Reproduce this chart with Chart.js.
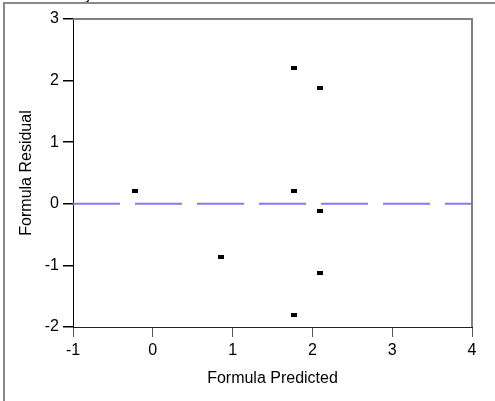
<!DOCTYPE html>
<html>
<head>
<meta charset="utf-8">
<script src="https://cdn.jsdelivr.net/npm/chart.js@4.4.0/dist/chart.umd.min.js"></script>
<style>
  html, body { margin: 0; padding: 0; background: #fff; }
  #wrap { width: 495px; height: 401px; }
</style>
</head>
<body>
<div id="wrap"><canvas id="residualPlot" width="495" height="401"></canvas></div>
<script>
// values
const predicted = [-0.22, 0.85, 1.77, 1.77, 1.77, 2.10, 2.10, 2.10];
const residual = [0.20, -0.86, 2.20, 0.20, -1.80, 1.88, -0.12, -1.12];
const xTicks = [-1, 0, 1, 2, 3, 4];
const yTicks = [-2, -1, 0, 1, 2, 3];
const zeroLine = [0, 0];

const FONT = '"Liberation Sans", Arial, sans-serif';

// small flat marker like the original
function makeMarker() {
    var c = document.createElement('canvas');
    c.width = 6;
    c.height = 4;
    var g = c.getContext('2d');
    g.fillStyle = '#000';
    g.fillRect(0, 0, 6, 4);
    return c;
}

// outer frame, cut-off title and the grey top/right border of the plot
const framePlugin = {
    id: 'frame',
    beforeDraw(chart) {
        const ctx = chart.ctx;
        ctx.save();
        ctx.fillStyle = '#fff';
        ctx.fillRect(0, 0, chart.width, chart.height);
        ctx.fillStyle = '#000';
        ctx.font = '16px ' + FONT;
        ctx.textBaseline = 'alphabetic';
        ctx.fillText('Residual by Predicted Plot', 9, 0);
        ctx.strokeStyle = '#888';
        ctx.lineWidth = 2;
        ctx.beginPath();
        ctx.moveTo(4, chart.height + 2);
        ctx.lineTo(4, 3);
        ctx.lineTo(chart.width + 2, 3);
        ctx.stroke();
        ctx.restore();
    },
    afterDatasetsDraw(chart) {
        const a = chart.chartArea;
        const ctx = chart.ctx;
        ctx.save();
        ctx.strokeStyle = '#808080';
        ctx.lineWidth = 2;
        ctx.beginPath();
        ctx.moveTo(a.left, a.top);
        ctx.lineTo(a.right, a.top);
        ctx.lineTo(a.right, a.bottom);
        ctx.stroke();
        ctx.restore();
    }
};

new Chart(document.getElementById('residualPlot'), {
    type: 'scatter',
    data: {
        datasets: [{
            label: 'Residual',
            data: predicted.map((x, i) => ({ x: x, y: residual[i] })),
            pointStyle: makeMarker(),
            order: 1
        }, {
            label: 'Zero',
            type: 'line',
            data: [{ x: xTicks[0], y: zeroLine[0] }, { x: xTicks[xTicks.length - 1], y: zeroLine[1] }],
            borderColor: 'rgb(136, 120, 240)',
            borderWidth: 2,
            borderDash: [47, 15],
            pointRadius: 0,
            order: 2
        }]
    },
    options: {
        responsive: false,
        animation: false,
        layout: { padding: { left: 0, top: 19, right: 23, bottom: 0 } },
        plugins: {
            legend: { display: false },
            tooltip: { enabled: false }
        },
        scales: {
            x: {
                type: 'linear',
                min: xTicks[0],
                max: xTicks[xTicks.length - 1],
                afterBuildTicks: s => { s.ticks = xTicks.map(v => ({ value: v })); },
                afterFit: s => { s.height = 74; },
                border: { color: '#222', width: 1 },
                grid: { drawOnChartArea: false, tickLength: 10, color: '#555' },
                ticks: {
                    color: '#000',
                    padding: 4,
                    font: { family: FONT, size: 16 }
                },
                title: {
                    display: true,
                    text: 'Formula Predicted',
                    color: '#000',
                    padding: { top: 0, bottom: 13 },
                    font: { family: FONT, size: 16 }
                }
            },
            y: {
                type: 'linear',
                min: yTicks[0],
                max: yTicks[yTicks.length - 1],
                afterBuildTicks: s => { s.ticks = yTicks.map(v => ({ value: v })); },
                afterFit: s => { s.width = 73; },
                border: { color: '#000', width: 1 },
                grid: { drawOnChartArea: false, tickLength: 10, color: '#000', lineWidth: 1.5 },
                ticks: {
                    color: '#000',
                    padding: 4,
                    font: { family: FONT, size: 16 }
                },
                title: {
                    display: true,
                    text: 'Formula Residual',
                    color: '#000',
                    padding: { top: 17, bottom: 0 },
                    font: { family: FONT, size: 16 }
                }
            }
        }
    },
    plugins: [framePlugin]
});
</script>
</body>
</html>
